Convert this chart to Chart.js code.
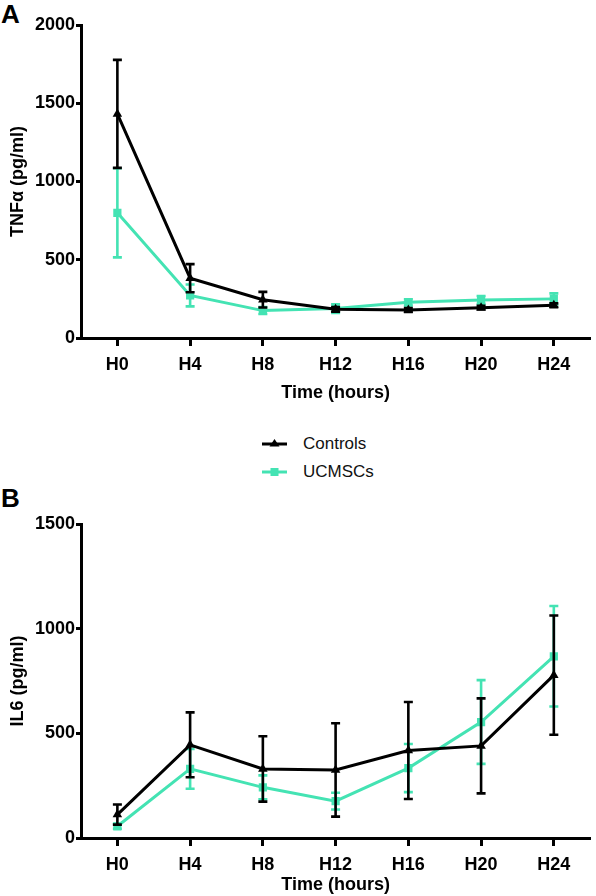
<!DOCTYPE html>
<html>
<head>
<meta charset="utf-8">
<script src="https://cdn.jsdelivr.net/npm/chart.js@4/dist/chart.umd.min.js"></script>
<style>
  html, body { margin: 0; padding: 0; background: #ffffff; }
  body { width: 596px; height: 896px; position: relative; overflow: hidden; font-family: "Liberation Sans", Arial, sans-serif; }
  .panel { position: absolute; left: 1px; font-weight: bold; font-size: 26px; line-height: 26px; color: #000; }
  #wrapA { position: absolute; left: 0; top: 0; width: 596px; height: 404px; }
  #wrapB { position: absolute; left: 0; top: 490px; width: 596px; height: 406px; }
  .leg { position: absolute; left: 260px; font-size: 17px; color: #111; height: 20px; line-height: 20px; }
  .leg svg { position: absolute; left: 0; top: 0; }
  .leg span { position: absolute; left: 43px; top: 0; white-space: nowrap; }
</style>
</head>
<body>
<div class="panel" style="top:1px;">A</div>
<div class="panel" style="top:485px;">B</div>
<div id="wrapA"><canvas id="chartA" width="596" height="404"></canvas></div>
<div id="wrapB"><canvas id="chartB" width="596" height="406"></canvas></div>
<div class="leg" style="top:434px;">
  <svg width="30" height="20"><line x1="2" y1="10" x2="27" y2="10" stroke="#000" stroke-width="3"/><polygon points="14.5,5 19.5,12.5 9.5,12.5" fill="#000"/></svg>
  <span>Controls</span>
</div>
<div class="leg" style="top:462px;">
  <svg width="30" height="20"><line x1="2" y1="10" x2="27" y2="10" stroke="#44e3b3" stroke-width="3"/><rect x="10.5" y="6" width="8" height="8" fill="#44e3b3"/></svg>
  <span>UCMSCs</span>
</div>
<script>
// ---- data ----
const categories = ["H0", "H4", "H8", "H12", "H16", "H20", "H24"];
const seriesNames = ["Controls", "UCMSCs"];

const tnfControls    = [1432, 382, 245, 183, 179, 194, 209];
const tnfControlsErr = [345, 90, 50, 15, 12, 12, 12];
const tnfUcmsc       = [800, 272, 175, 188, 228, 243, 250];
const tnfUcmscErr    = [285, 70, 22, 28, 20, 25, 35];

const il6Controls    = [112, 445, 330, 325, 418, 440, 778];
const il6ControlsErr = [48, 155, 156, 223, 232, 227, 285];
const il6Ucmsc       = [56, 330, 242, 176, 334, 554, 868];
const il6UcmscErr    = [12, 95, 57, 40, 115, 200, 240];

const tnfTicks = [0, 500, 1000, 1500, 2000];
const il6Ticks = [0, 500, 1000, 1500];

// ---- style ----
const BLACK = "#000000";
const GREEN = "#44e3b3";
const FONT = "'Liberation Sans', Arial, sans-serif";
const FSIZE = 18;

const errorBarPlugin = {
  id: "errorBars",
  beforeDatasetDraw(chart, args) {
    const ds = chart.data.datasets[args.index];
    if (!ds.errors) return;
    const meta = args.meta;
    const y = chart.scales.y;
    const ctx = chart.ctx;
    ctx.save();
    ctx.strokeStyle = ds.borderColor;
    ctx.lineWidth = 2.6;
    ctx.lineCap = "butt";
    meta.data.forEach((pt, i) => {
      const v = ds.data[i], e = ds.errors[i];
      const x = pt.x;
      const yt = y.getPixelForValue(v + e);
      const yb = y.getPixelForValue(v - e);
      const cap = 4.5;
      ctx.beginPath();
      ctx.moveTo(x, yt); ctx.lineTo(x, yb);
      ctx.moveTo(x - cap, yt); ctx.lineTo(x + cap, yt);
      ctx.moveTo(x - cap, yb); ctx.lineTo(x + cap, yb);
      ctx.stroke();
    });
    ctx.restore();
  }
};

function makeChart(id, ctrl, ctrlErr, uc, ucErr, ticks, yTitle, padTop, xHeight) {
  const yMax = ticks[ticks.length - 1];
  return new Chart(document.getElementById(id), {
    type: "line",
    data: {
      labels: categories,
      datasets: [
        {
          label: seriesNames[0], data: ctrl, errors: ctrlErr,
          borderColor: BLACK, backgroundColor: BLACK, borderWidth: 3,
          pointStyle: "triangle", pointRadius: 5.5, pointBorderWidth: 0,
          pointBackgroundColor: BLACK, tension: 0, fill: false
        },
        {
          label: seriesNames[1], data: uc, errors: ucErr,
          borderColor: GREEN, backgroundColor: GREEN, borderWidth: 3,
          pointStyle: "rect", pointRadius: 5.8, pointBorderWidth: 0,
          pointBackgroundColor: GREEN, tension: 0, fill: false
        }
      ]
    },
    options: {
      responsive: false,
      animation: false,
      layout: { padding: { left: 0, right: 4, top: padTop, bottom: 0 } },
      plugins: { legend: { display: false }, tooltip: { enabled: false } },
      scales: {
        x: {
          type: "category",
          offset: true,
          grid: { display: true, drawOnChartArea: false, drawTicks: true, tickLength: 8, tickWidth: 3, tickColor: BLACK, offset: false },
          border: { display: true, color: BLACK, width: 3 },
          ticks: { color: BLACK, padding: 8, font: { family: FONT, size: FSIZE, weight: "bold" }, maxRotation: 0 },
          title: { display: true, text: "Time (hours)", color: BLACK, padding: { top: 0, bottom: 0 }, font: { family: FONT, size: FSIZE, weight: "bold" } },
          afterFit(scale) { scale.height = xHeight; }
        },
        y: {
          min: 0, max: yMax,
          afterBuildTicks(scale) { scale.ticks = ticks.map(v => ({ value: v })); },
          grid: { display: true, drawOnChartArea: false, drawTicks: true, tickLength: 5, tickWidth: 3, tickColor: BLACK },
          border: { display: true, color: BLACK, width: 3 },
          ticks: { color: BLACK, padding: 1, font: { family: FONT, size: FSIZE, weight: "bold" }, callback: (v) => String(v) },
          title: { display: true, text: yTitle, color: BLACK, padding: { top: 7, bottom: 0 }, font: { family: FONT, size: FSIZE, weight: "bold" } },
          afterFit(scale) { scale.width = 81; }
        }
      }
    },
    plugins: [errorBarPlugin]
  });
}

makeChart("chartA", tnfControls, tnfControlsErr, tnfUcmsc, tnfUcmscErr, tnfTicks, "TNFα (pg/ml)", 25, 66);
makeChart("chartB", il6Controls, il6ControlsErr, il6Ucmsc, il6UcmscErr, il6Ticks, "IL6 (pg/ml)", 34, 58);
</script>
</body>
</html>
